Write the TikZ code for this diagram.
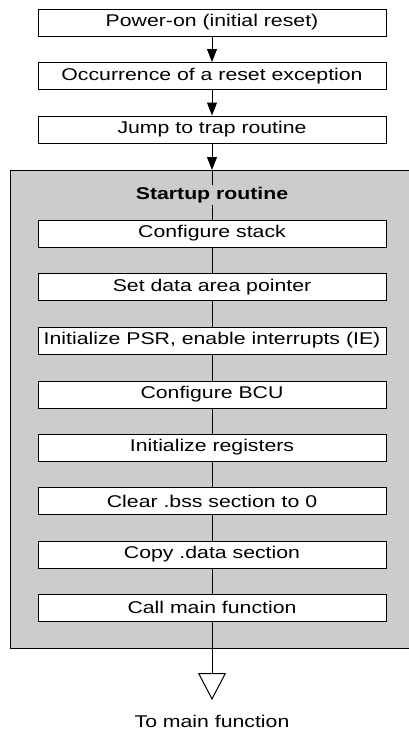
\documentclass[tikz,border=0pt]{standalone}
\usepackage{fontspec}
\setmainfont{Liberation Sans}[FakeStretch=1.25]
\usetikzlibrary{arrows.meta}
\definecolor{panelgray}{HTML}{CCCCCC}
\tikzset{
  stepbox/.style={draw=black, line width=1pt, fill=white, minimum width=348pt, minimum height=27pt, inner sep=0pt, font=\fontsize{17}{20}\selectfont},
  flow/.style={line width=1pt, -{Triangle[length=13pt,width=10pt]}},
  link/.style={line width=1pt},
}
\begin{document}
\begin{tikzpicture}[x=1pt,y=-1pt]
\useasboundingbox (0,0) rectangle (408,731);
% gray panel
\fill[panelgray] (10,170) rectangle (430,648);
\draw[line width=1pt] (430,170) -- (10,170) -- (10,648) -- (430,648);
\node[stepbox] (p1) at (212,22.5) {Power-on (initial reset)};
\node[stepbox] (p2) at (212,76) {Occurrence of a reset exception};
\node[stepbox] (p3) at (212,129.5) {Jump to trap routine};
\coordinate (ptop) at (212,170);
\node[stepbox] (s1) at (212,233.5) {Configure stack};
\node[stepbox] (s2) at (212,287) {Set data area pointer};
\node[stepbox] (s3) at (212,340.5) {Initialize PSR, enable interrupts (IE)};
\node[stepbox] (s4) at (212,394.5) {Configure BCU};
\node[stepbox] (s5) at (212,447.5) {Initialize registers};
\node[stepbox] (s6) at (212,501) {Clear .bss section to 0};
\node[stepbox] (s7) at (212,554.5) {Copy .data section};
\node[stepbox] (s8) at (212,607.5) {Call main function};
\coordinate (tip) at (212,700);
\node[font=\fontsize{17}{20}\selectfont] (out) at (212,721) {To main function};
% connectors
\draw[flow] (p1) -- (p2);
\draw[flow] (p2) -- (p3);
\draw[flow] (p3) -- (ptop);
\draw[link] (ptop) -- (s1);
\node[fill=panelgray, inner sep=2pt, font=\bfseries\fontsize{17}{20}\selectfont] (title) at (212,195) {Startup routine};
\draw[link] (s1) -- (s2);
\draw[link] (s2) -- (s3);
\draw[link] (s3) -- (s4);
\draw[link] (s4) -- (s5);
\draw[link] (s5) -- (s6);
\draw[link] (s6) -- (s7);
\draw[link] (s7) -- (s8);
\draw[line width=1pt, -{Triangle[open,length=27pt,width=28pt,fill=white,line width=1pt]}] (s8) -- (tip);
\end{tikzpicture}
\end{document}
